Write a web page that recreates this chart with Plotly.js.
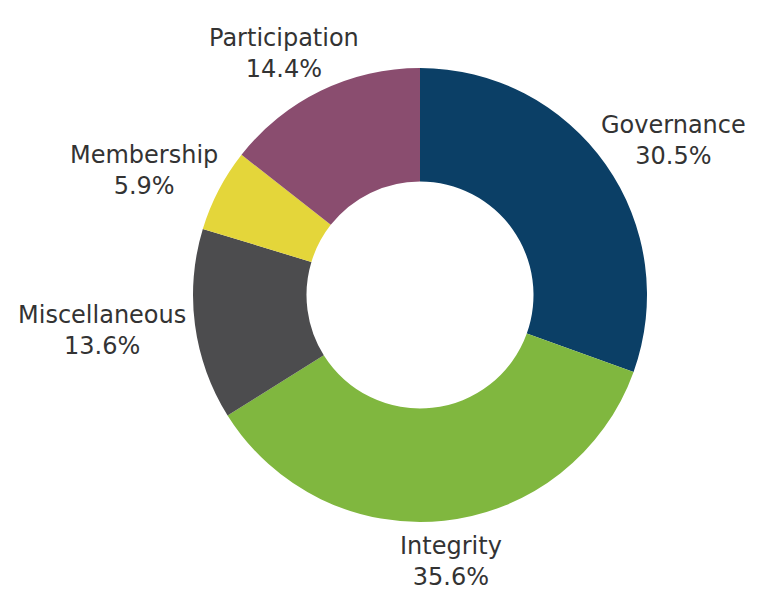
<!DOCTYPE html>
<html>
<head>
<meta charset="utf-8">
<script src="https://cdn.plot.ly/plotly-3.0.1.min.js"></script>
<style>html,body{margin:0;padding:0;background:#fff;}#chart{width:771px;height:593px;}</style>
</head>
<body>
<div id="chart"></div>
<script>
const categories = ["Governance", "Integrity", "Miscellaneous", "Membership", "Participation"];
const shares = [30.5, 35.6, 13.6, 5.9, 14.4];
const colors = ["#0b3f66", "#80b73f", "#4c4c4e", "#e4d63a", "#8a4d6f"];

const W = 771, H = 593, cx = 420, cy = 295, R = 227, GAP = 10;
const FS = 24, FAMILY = "'DejaVu Sans', 'Noto Sans', sans-serif";
const labelFont = {family: FAMILY, size: FS, color: "#333333"};

// measure text widths to place labels just outside each slice's mid-angle
const ctx = document.createElement("canvas").getContext("2d");
ctx.font = FS + "px " + FAMILY;
const total = shares.reduce((a, b) => a + b, 0);
let cum = 0;
const annotations = categories.map((c, i) => {
  const mid = (cum + shares[i] / 2) / total * 2 * Math.PI;
  cum += shares[i];
  const txt = c + "<br>" + shares[i].toFixed(1) + "%";
  const halfW = Math.max(ctx.measureText(c).width, ctx.measureText(shares[i].toFixed(1) + "%").width) / 2;
  const halfH = 2 * 1.3 * FS / 2;
  const s = Math.sin(mid), k = Math.cos(mid);
  const px = cx + s * (R + GAP + halfW);
  const py = cy - k * (R + GAP + halfH);
  return {
    text: txt, x: px / W, y: 1 - py / H, xref: "paper", yref: "paper",
    xanchor: "center", yanchor: "middle", showarrow: false, font: labelFont, align: "center"
  };
});

Plotly.newPlot("chart", [{
  type: "pie",
  labels: categories,
  values: shares,
  sort: false,
  direction: "clockwise",
  rotation: 0,
  hole: 0.5,
  marker: {colors: colors, line: {width: 0}},
  textinfo: "none",
  hoverinfo: "none",
  domain: {x: [(cx - R) / W, (cx + R) / W], y: [(H - cy - R) / H, (H - cy + R) / H]}
}], {
  width: W,
  height: H,
  margin: {l: 0, r: 0, t: 0, b: 0},
  showlegend: false,
  paper_bgcolor: "#ffffff",
  font: labelFont,
  annotations: annotations
}, {displayModeBar: false, staticPlot: true});
</script>
</body>
</html>
